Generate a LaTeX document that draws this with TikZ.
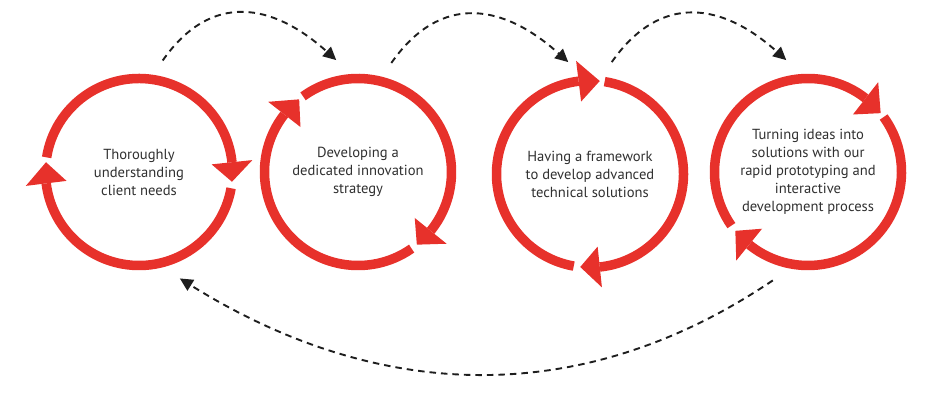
\documentclass[tikz,border=0pt]{standalone}
\usepackage{fontspec}
\setmainfont{PT Sans}
\usetikzlibrary{arrows.meta}
\definecolor{ringred}{RGB}{231,49,43}
\definecolor{textgray}{RGB}{48,48,48}
\definecolor{linkgray}{RGB}{30,30,30}
\begin{document}
\begin{tikzpicture}[x=1pt,y=1pt]
        \tikzstyle{stage}=[circle,draw=none,minimum size=228,inner sep=0,outer sep=0,align=center,text=textgray,font=\fontsize{14.6}{18}\selectfont]
        \tikzstyle{ring}=[draw=ringred,line width=9.5]
        \tikzstyle{head}=[fill=ringred]
        \tikzstyle{link}=[draw=linkgray,line width=1.9,dash pattern=on 6.5 off 5,-{Triangle[length=13,width=12.5]}]
        \useasboundingbox (0,0) rectangle (940,415);
         \node [stage] (c1) at (139,243) {Thoroughly\\understanding\\client needs};
         \node [stage] (c2) at (358,243) {Developing a\\dedicated innovation\\strategy};
         \node [stage] (c3) at (590,241) {Having a framework\\to develop advanced\\technical solutions};
         \node [stage] (c4) at (808,243) {Turning ideas into\\solutions with our\\rapid prototyping and\\interactive\\development process};
       \begin{scope}[shift={(c1.center)},rotate=0]
         \draw[ring] (171:93.5) arc[start angle=171,end angle=6,radius=93.5];
         \fill[head] (6:73) -- (-6:93.5) -- (6:114) -- cycle;
         \draw[ring] (-10:93.5) arc[start angle=-10,end angle=-173,radius=93.5];
         \fill[head] (-173:73) -- (-186:93.5) -- (-173:114) -- cycle;
        \end{scope}
       \begin{scope}[shift={(c2.center)},rotate=-45]
         \draw[ring] (171:93.5) arc[start angle=171,end angle=6,radius=93.5];
         \fill[head] (6:73) -- (-6:93.5) -- (6:114) -- cycle;
         \draw[ring] (-10:93.5) arc[start angle=-10,end angle=-173,radius=93.5];
         \fill[head] (-173:73) -- (-186:93.5) -- (-173:114) -- cycle;
        \end{scope}
       \begin{scope}[shift={(c3.center)},rotate=-90]
         \draw[ring] (171:93.5) arc[start angle=171,end angle=6,radius=93.5];
         \fill[head] (6:73) -- (-6:93.5) -- (6:114) -- cycle;
         \draw[ring] (-10:93.5) arc[start angle=-10,end angle=-173,radius=93.5];
         \fill[head] (-173:73) -- (-186:93.5) -- (-173:114) -- cycle;
        \end{scope}
       \begin{scope}[shift={(c4.center)},rotate=-135]
         \draw[ring] (171:93.5) arc[start angle=171,end angle=6,radius=93.5];
         \fill[head] (6:73) -- (-6:93.5) -- (6:114) -- cycle;
         \draw[ring] (-10:93.5) arc[start angle=-10,end angle=-173,radius=93.5];
         \fill[head] (-173:73) -- (-186:93.5) -- (-173:114) -- cycle;
        \end{scope}
         \path[link] (c1.78) to[out=55,in=138,looseness=1.25] (c2.101);
         \path[link] (c2.73) to[out=55,in=138,looseness=1.25] (c3.101);
         \path[link] (c3.79) to[out=55,in=138,looseness=1.25] (c4.101);
         \path[link] (c4.252) to[out=214,in=-32] (c1.-69);
      \end{tikzpicture}
\end{document}
